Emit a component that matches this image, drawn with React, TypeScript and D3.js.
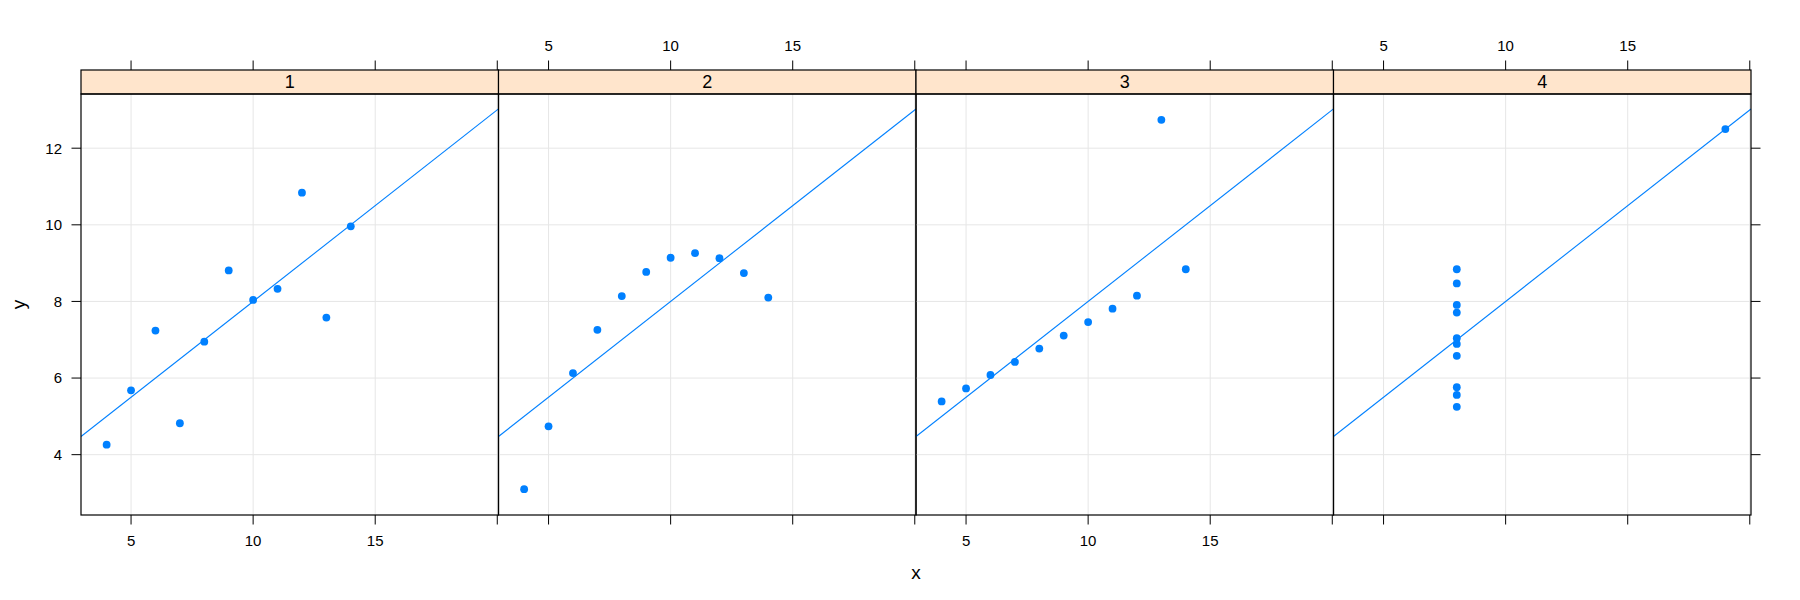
import { useEffect, useRef } from 'react';
import * as d3 from 'd3';

// Anscombe's quartet
const x123 = [10, 8, 13, 9, 11, 14, 6, 4, 12, 7, 5];
const x4 = [8, 8, 8, 8, 8, 8, 8, 19, 8, 8, 8];
const y1 = [8.04, 6.95, 7.58, 8.81, 8.33, 9.96, 7.24, 4.26, 10.84, 4.82, 5.68];
const y2 = [9.14, 8.14, 8.74, 8.77, 9.26, 8.1, 6.13, 3.1, 9.13, 7.26, 4.74];
const y3 = [7.46, 6.77, 12.74, 7.11, 7.81, 8.84, 6.08, 5.39, 8.15, 6.42, 5.73];
const y4 = [6.58, 5.76, 7.71, 8.84, 8.47, 7.04, 5.25, 12.5, 5.56, 7.91, 6.89];
const panelNames = ['1', '2', '3', '4'];
const xTicks = [5, 10, 15, 20];
const yTicks = [4, 6, 8, 10, 12];
// fitted line y = a + b x (same for all four sets)
const lineCoef = [3.0, 0.5];

const App = () => {
  const ref = useRef<SVGSVGElement>(null);

  useEffect(() => {
    if (!ref.current) return;
    const svg = d3.select(ref.current);
    svg.selectAll('*').remove();

    const font = '"Liberation Sans", Arial, Helvetica, sans-serif';
    const blue = '#0080ff';
    const left = 81;
    const pw = 417.5;
    const stripTop = 70;
    const stripH = 24;
    const top = stripTop + stripH;
    const bottom = 515;
    const tickLen = 9.5;

    const sets = [
      { x: x123, y: y1 },
      { x: x123, y: y2 },
      { x: x123, y: y3 },
      { x: x4, y: y4 },
    ];
    const allX = sets.flatMap(s => s.x);
    const allY = sets.flatMap(s => s.y);
    const [xmin, xmax] = d3.extent(allX) as [number, number];
    const [ymin, ymax] = d3.extent(allY) as [number, number];
    const xpad = (xmax - xmin) * 0.07;
    const ypad = (ymax - ymin) * 0.07;

    const x = d3.scaleLinear().domain([xmin - xpad, xmax + xpad]).range([0, pw]);
    const y = d3.scaleLinear().domain([ymin - ypad, ymax + ypad]).range([bottom, top]);

    svg.append('defs').append('clipPath').attr('id', 'pclip')
      .append('rect').attr('x', 0).attr('y', top).attr('width', pw).attr('height', bottom - top);

    sets.forEach((s, i) => {
      const g = svg.append('g').attr('transform', `translate(${left + i * pw},0)`);

      // grid
      g.selectAll('.vg').data(xTicks).enter().append('line')
        .attr('x1', d => x(d)).attr('x2', d => x(d))
        .attr('y1', top).attr('y2', bottom)
        .attr('stroke', '#e6e6e6').attr('stroke-width', 1);
      g.selectAll('.hg').data(yTicks).enter().append('line')
        .attr('x1', 0).attr('x2', pw)
        .attr('y1', d => y(d)).attr('y2', d => y(d))
        .attr('stroke', '#e6e6e6').attr('stroke-width', 1);

      // regression line
      const [a, b] = lineCoef;
      const [d0, d1] = x.domain();
      g.append('line')
        .attr('clip-path', 'url(#pclip)')
        .attr('x1', x(d0)).attr('y1', y(a + b * d0))
        .attr('x2', x(d1)).attr('y2', y(a + b * d1))
        .attr('stroke', blue).attr('stroke-width', 1.1);

      // points
      g.selectAll('.pt').data(s.x.map((v, k) => [v, s.y[k]])).enter().append('circle')
        .attr('cx', d => x(d[0])).attr('cy', d => y(d[1]))
        .attr('r', 3.9).attr('fill', blue);

      // strip
      g.append('rect')
        .attr('x', 0).attr('y', stripTop).attr('width', pw).attr('height', stripH)
        .attr('fill', '#ffe5cc').attr('stroke', 'black').attr('stroke-width', 1.2);
      g.append('text')
        .attr('x', pw / 2).attr('y', stripTop + stripH / 2)
        .attr('dy', '0.36em').attr('text-anchor', 'middle')
        .style('font-family', font).style('font-size', '18px')
        .text(panelNames[i]);

      // panel border
      g.append('rect')
        .attr('x', 0).attr('y', top).attr('width', pw).attr('height', bottom - top)
        .attr('fill', 'none').attr('stroke', 'black').attr('stroke-width', 1.2);

      // top ticks
      g.selectAll('.tt').data(xTicks).enter().append('line')
        .attr('x1', d => x(d)).attr('x2', d => x(d))
        .attr('y1', stripTop).attr('y2', stripTop - tickLen)
        .attr('stroke', 'black').attr('stroke-width', 1);
      // bottom ticks
      g.selectAll('.bt').data(xTicks).enter().append('line')
        .attr('x1', d => x(d)).attr('x2', d => x(d))
        .attr('y1', bottom).attr('y2', bottom + tickLen)
        .attr('stroke', 'black').attr('stroke-width', 1);

      // alternating tick labels
      const labelTicks = xTicks.filter(t => t < 20);
      if (i % 2 === 1) {
        g.selectAll('.tl').data(labelTicks).enter().append('text')
          .attr('x', d => x(d)).attr('y', 46)
          .attr('dy', '0.36em').attr('text-anchor', 'middle')
          .style('font-family', font).style('font-size', '15px')
          .text(d => String(d));
      } else {
        g.selectAll('.bl').data(labelTicks).enter().append('text')
          .attr('x', d => x(d)).attr('y', 540.5)
          .attr('dy', '0.36em').attr('text-anchor', 'middle')
          .style('font-family', font).style('font-size', '15px')
          .text(d => String(d));
      }

      if (i === 0) {
        g.selectAll('.lt').data(yTicks).enter().append('line')
          .attr('x1', 0).attr('x2', -tickLen)
          .attr('y1', d => y(d)).attr('y2', d => y(d))
          .attr('stroke', 'black').attr('stroke-width', 1);
        g.selectAll('.ll').data(yTicks).enter().append('text')
          .attr('x', -19).attr('y', d => y(d))
          .attr('dy', '0.36em').attr('text-anchor', 'end')
          .style('font-family', font).style('font-size', '15px')
          .text(d => String(d));
      }
      if (i === 3) {
        g.selectAll('.rt').data(yTicks).enter().append('line')
          .attr('x1', pw).attr('x2', pw + tickLen)
          .attr('y1', d => y(d)).attr('y2', d => y(d))
          .attr('stroke', 'black').attr('stroke-width', 1);
      }
    });

    // axis titles
    svg.append('text')
      .attr('x', left + 2 * pw).attr('y', 579)
      .attr('text-anchor', 'middle')
      .style('font-family', font).style('font-size', '19px')
      .text('x');
    svg.append('text')
      .attr('transform', `translate(25,${(top + bottom) / 2}) rotate(-90)`)
      .attr('text-anchor', 'middle')
      .style('font-family', font).style('font-size', '19px')
      .text('y');
  }, []);

  return (
    <svg
      ref={ref}
      width={1800}
      height={600}
      style={{ position: 'fixed', left: 0, top: 0, background: 'white' }}
    />
  );
};

export default App;
